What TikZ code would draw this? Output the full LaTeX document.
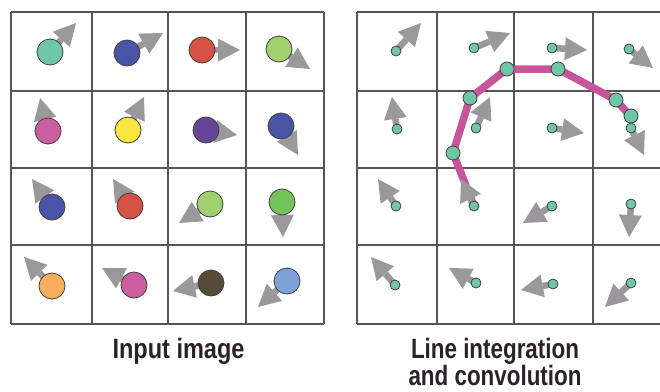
\documentclass[tikz,border=0pt]{standalone}
\usepackage{fontspec}
\setmainfont{Liberation Sans}
\usetikzlibrary{arrows.meta}
\definecolor{gridc}{HTML}{5A525A}
\definecolor{arrowgray}{HTML}{9A989A}
\definecolor{teal}{HTML}{70C6A6}
\definecolor{blueA}{HTML}{4A54A6}
\definecolor{redA}{HTML}{D65245}
\definecolor{lgreen}{HTML}{A0D070}
\definecolor{pinkA}{HTML}{CC5EA0}
\definecolor{yellowA}{HTML}{F8E640}
\definecolor{purpleA}{HTML}{66449A}
\definecolor{greenA}{HTML}{72C45A}
\definecolor{orangeA}{HTML}{F4AE5C}
\definecolor{oliveA}{HTML}{564A38}
\definecolor{lblue}{HTML}{7EA2D6}
\definecolor{magentaA}{HTML}{C8549A}
\definecolor{textc}{HTML}{2A2228}
\tikzset{
  gridline/.style={draw=gridc, line width=1.4pt},
  vec/.style={draw=arrowgray, line width=6.5pt, -{Triangle[length=22pt,width=23pt,line width=0pt]}},
  blob/.style={draw=black!75, line width=0.8pt},
  pathline/.style={draw=magentaA, line width=7.5pt, line join=round, line cap=round},
  caption/.style={text=textc, font=\fontsize{28}{28}\selectfont\bfseries, inner sep=0pt, anchor=base}
}
\begin{document}
\begin{tikzpicture}[x=1pt,y=-1pt]
\useasboundingbox (0,0) rectangle (660,391);
% ---------- left grid ----------
\foreach \x in {11,92,168,246,324} \draw[gridline] (\x,12) -- (\x,324);
\foreach \y in {12,91,168,245,324} \draw[gridline] (11,\y) -- (324,\y);
% arrows (left)
\foreach \cx/\cy/\tx/\ty/\c in {
  50/52/76/23/teal, 127/53/163/33/blueA, 202/50/240/50/redA, 279/49/310/69/lgreen,
  48/131/40/98/pinkA, 128/130/144/97/yellowA, 206/130/237/135/purpleA, 281/126/298/155/blueA,
  52/207/32/179/blueA, 130/206/113/179/redA, 210/204/179/223/lgreen, 282/202/283/237/greenA,
  52/286/24/257/orangeA, 134/285/102/268/pinkA, 211/283/173/291/oliveA, 287/281/258/307/lblue}
{
  \draw[vec] (\cx,\cy) -- (\tx,\ty);
  \filldraw[blob, fill=\c] (\cx,\cy) circle[radius=13];
}
% ---------- right grid ----------
\foreach \x in {357,437,514,593} \draw[gridline] (\x,12) -- (\x,324);
\foreach \y in {12,91,168,245,324} \draw[gridline] (357,\y) -- (660,\y);
% streamline
\draw[pathline] (474,206) -- (453,153) -- (470,98) -- (507,69) -- (558,69) -- (616,100) -- (631,117);
% arrows (right)
\foreach \cx/\cy/\tx/\ty in {
  396/51/421/23, 474/48/510/33, 552/48/587/50, 629/49/653/68,
  397/129/392/97, 476/128/490/97, 552/128/584/133, 631/128/644/155,
  396/206/378/179, 474/206/461/179, 552/206/523/223, 631/204/629/237,
  395/285/371/257, 476/283/449/268, 553/284/521/290, 631/283/605/307}
{
  \draw[vec] (\cx,\cy) -- (\tx,\ty);
}
\foreach \cx/\cy in {453/153, 470/98, 507/69, 558/69, 616/100, 631/116}
  \filldraw[blob, fill=teal] (\cx,\cy) circle[radius=7];
\foreach \cx/\cy in {
  396/51, 474/48, 552/48, 629/49,
  397/129, 476/128, 552/128, 631/128,
  396/206, 474/206, 552/206, 631/204,
  395/285, 476/283, 553/284, 631/283}
  \filldraw[blob, fill=teal] (\cx,\cy) circle[radius=5];
% ---------- captions ----------
\node[caption] (capA) at (178.5,358) {\scalebox{0.84}[1]{Input image}};
\node[caption] (capB1) at (495,358) {\scalebox{0.8}[1]{Line integration}};
\node[caption] (capB2) at (495,385) {\scalebox{0.8}[1]{and convolution}};
\end{tikzpicture}
\end{document}
